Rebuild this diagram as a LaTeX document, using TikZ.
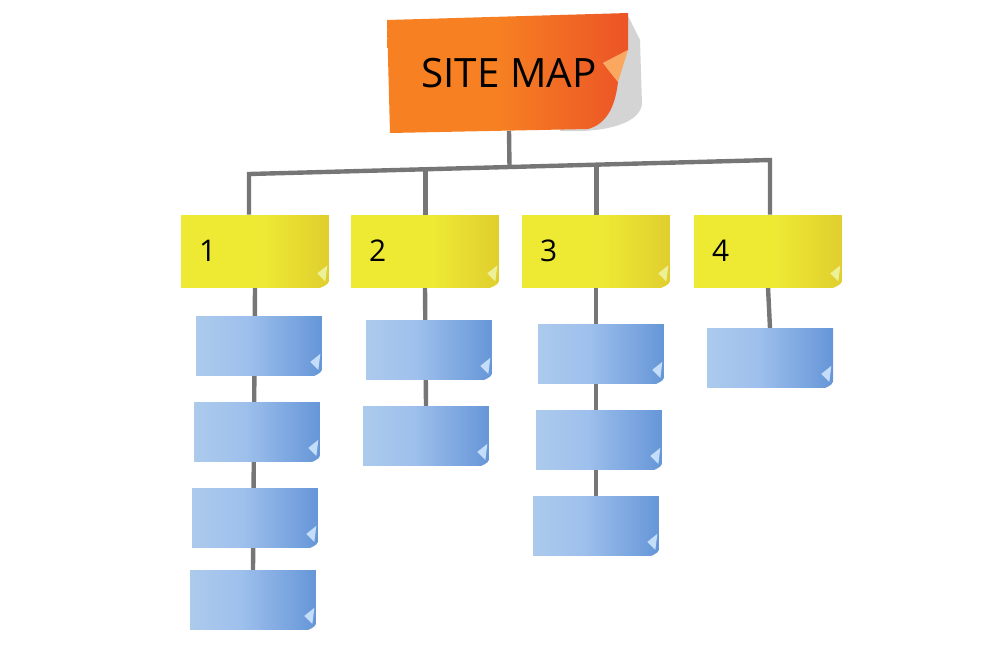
\documentclass[tikz,border=0pt]{standalone}
\usepackage{fontspec}
\newfontfamily\hand{Open Sans}
\usetikzlibrary{calc,backgrounds}
\definecolor{lineGrey}{RGB}{118,118,118}
\definecolor{orA}{RGB}{246,128,34}
\definecolor{orB}{RGB}{236,84,38}
\definecolor{orFold}{RGB}{250,168,96}
\definecolor{shad}{RGB}{212,212,212}
\definecolor{yelA}{RGB}{238,234,52}
\definecolor{yelB}{RGB}{224,206,46}
\definecolor{yelFold}{RGB}{236,240,150}
\definecolor{bluA}{RGB}{172,202,236}
\definecolor{bluM}{RGB}{158,192,236}
\definecolor{bluB}{RGB}{102,150,216}
\definecolor{bluFold}{RGB}{196,222,250}
\pgfdeclarehorizontalshading{blueshade}{100bp}{color(0bp)=(bluA); color(25bp)=(bluA); color(45bp)=(bluM); color(75bp)=(bluB); color(100bp)=(bluB)}
\pgfdeclarehorizontalshading{yellowshade}{100bp}{color(0bp)=(yelA); color(52bp)=(yelA); color(75bp)=(yelB); color(100bp)=(yelB)}
\pgfdeclarehorizontalshading{orangeshade}{100bp}{color(0bp)=(orA); color(48bp)=(orA); color(75bp)=(orB); color(100bp)=(orB)}
\begin{document}
\begin{tikzpicture}[x=0.02cm,y=-0.02cm,
  conn/.style={draw=lineGrey,line width=2.5pt},
  yellownote/.style={rectangle,inner sep=0pt,inner xsep=0.36cm,minimum width=2.96cm,minimum height=1.44cm,
    text width=2.24cm,align=left,shading=yellowshade,
    font=\hand\fontsize{17}{17}\selectfont},
  bluenote/.style={rectangle,inner sep=0pt,minimum width=2.52cm,minimum height=1.18cm,
    shading=blueshade},
  sitenote/.style={rectangle,inner sep=0pt,minimum width=4.8cm,minimum height=2.3cm,
    font=\hand\fontsize{23}{23}\selectfont}
]
\useasboundingbox (0,0) rectangle (1000,650);

% orange sticky note (shadow, body, fold)
\fill[shad] (560,131) .. controls (610,133) and (640,122) .. (642,104) -- (640,40) -- (628,16) -- cycle;
\shade[shading=orangeshade]
  (387,20) -- (628,13) -- (628,50) -- (603,63) -- (618,82)
  .. controls (615,108) and (606,124) .. (588,129) -- (390,133) -- cycle;
\fill[orFold] (603,63) -- (628,50) -- (618,82) -- cycle;
\node[sitenote] (site) at (509,73) {SITE MAP};

% level 1 (yellow)
\node[yellownote] (y1) at (255,251) {1};
\node[yellownote] (y2) at (425,251) {2};
\node[yellownote] (y3) at (596,251) {3};
\node[yellownote] (y4) at (768,251) {4};

% level 2 (blue)
\node[bluenote] (a1) at (259,346) {};
\node[bluenote] (a2) at (257,432) {};
\node[bluenote] (a3) at (255,518) {};
\node[bluenote] (a4) at (253,600) {};
\node[bluenote] (b1) at (429,350) {};
\node[bluenote] (b2) at (426,436) {};
\node[bluenote] (c1) at (601,354) {};
\node[bluenote] (c2) at (599,440) {};
\node[bluenote] (c3) at (596,526) {};
\node[bluenote] (d1) at (770,358) {};

% page curls
\foreach \n in {y1,y2,y3,y4}{
  \fill[white] ($(\n.south east)+(-10,1)$) -- ($(\n.south east)+(1,1)$) -- ($(\n.south east)+(1,-10)$)
    .. controls ($(\n.south east)+(-1,-3)$) .. cycle;
  \fill[yelFold] ($(\n.south east)+(-12,-14)$) -- ($(\n.south east)+(-2,-22)$) -- ($(\n.south east)+(-4,-6)$) -- cycle;
}
\foreach \n in {a1,a2,a3,a4,b1,b2,c1,c2,c3,d1}{
  \fill[white] ($(\n.south east)+(-10,1)$) -- ($(\n.south east)+(1,1)$) -- ($(\n.south east)+(1,-10)$)
    .. controls ($(\n.south east)+(-1,-3)$) .. cycle;
  \fill[bluFold] ($(\n.south east)+(-12,-14)$) -- ($(\n.south east)+(-2,-22)$) -- ($(\n.south east)+(-4,-6)$) -- cycle;
}

% connectors
\coordinate (bL) at (249,174);
\coordinate (bR) at (770,160);
\coordinate (J) at ($(bL)!0.5!(bR)$);
\coordinate (k2) at ($(bL)!0.339!(bR)$);
\coordinate (k3) at ($(bL)!0.667!(bR)$);
\begin{scope}[on background layer]
  \draw[conn] (site.south) -- (J);
  \draw[conn] (bL |- y1.north) -- (bL) -- (bR) -- (bR |- y4.north);
  \draw[conn] (k2) -- (k2 |- y2.north);
  \draw[conn] (k3) -- (k3 |- y3.north);
  \draw[conn] (y1.south) -- (a4.north);
  \draw[conn] (y2.south) -- (b2.north);
  \draw[conn] (y3.south) -- (c3.north);
  \draw[conn] (y4.south) -- (d1.north);
\end{scope}
\end{tikzpicture}
\end{document}
